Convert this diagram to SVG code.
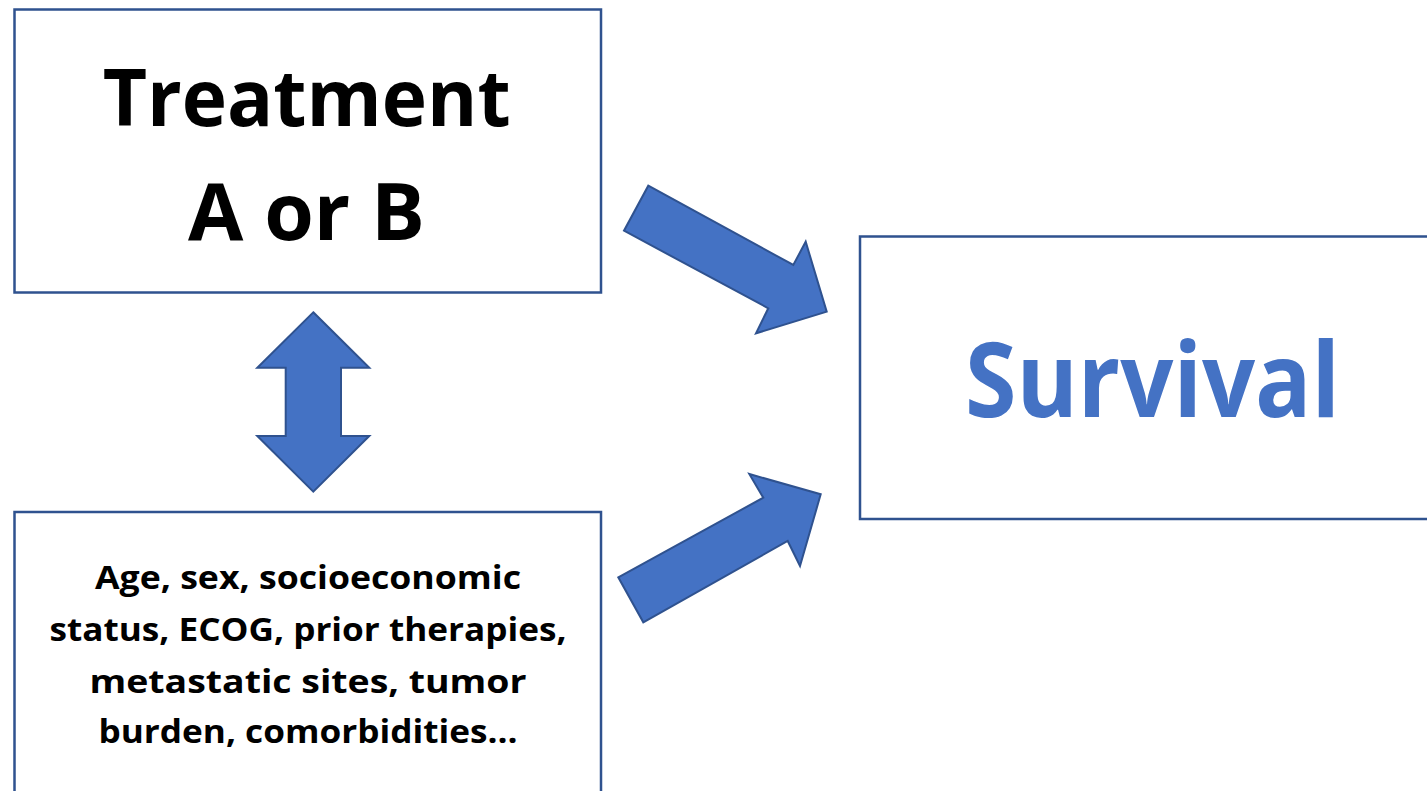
<svg xmlns="http://www.w3.org/2000/svg" width="1427" height="791" viewBox="0 0 1427 791">
  <style>
    .box { fill: #ffffff; stroke: #2F528F; stroke-width: 2.5; }
    .arrow { fill: #4472C4; stroke: #2F528F; stroke-width: 2; stroke-linejoin: miter; }
    .t { font-family: "Open Sans", "Liberation Sans", sans-serif; font-weight: bold; text-anchor: middle; }
    .big { font-size: 79px; fill: #000000; }
    .surv { font-size: 104px; fill: #4472C4; }
    .small { font-size: 32px; fill: #000000; }
  </style>
  <rect width="1427" height="791" fill="#ffffff"/>
  <g id="treatment">
    <rect class="box" x="14.5" y="9.5" width="586.5" height="283"/>
    <text class="t big" x="306.7" y="126" textLength="408" lengthAdjust="spacingAndGlyphs">Treatment</text>
    <text class="t big" x="306.5" y="240" textLength="237" lengthAdjust="spacingAndGlyphs">A or B</text>
  </g>
  <g id="confounders">
    <rect class="box" x="14.5" y="512" width="586.5" height="300"/>
    <text class="t small" x="308" y="589.3" textLength="426" lengthAdjust="spacingAndGlyphs">Age, sex, socioeconomic</text>
    <text class="t small" x="308" y="641" textLength="517" lengthAdjust="spacingAndGlyphs">status, ECOG, prior therapies,</text>
    <text class="t small" x="308" y="692.7" textLength="437" lengthAdjust="spacingAndGlyphs">metastatic sites, tumor</text>
    <text class="t small" x="308" y="743" textLength="419" lengthAdjust="spacingAndGlyphs">burden, comorbidities…</text>
  </g>
  <g id="survival">
    <rect class="box" x="860" y="236.5" width="600" height="282.5"/>
    <text class="t surv" x="1152.5" y="417.3" textLength="375" lengthAdjust="spacingAndGlyphs">Survival</text>
  </g>
  <g id="connectors">
    <polygon class="arrow" points="313.3,312.3 369.3,367.7 341,367.7 341,436 369.3,436 313.3,491.7 257.3,436 285.7,436 285.7,367.7 257.3,367.7"/>
    <polygon class="arrow" points="648.3,185.7 793.3,265 805.7,241.7 826.7,311.7 756,333.3 768.3,308.3 624,230.7"/>
    <polygon class="arrow" points="618.3,577.3 763.3,497.7 749.3,474 820.7,494.3 800,566 787.7,541 643.3,622.3"/>
  </g>
</svg>
